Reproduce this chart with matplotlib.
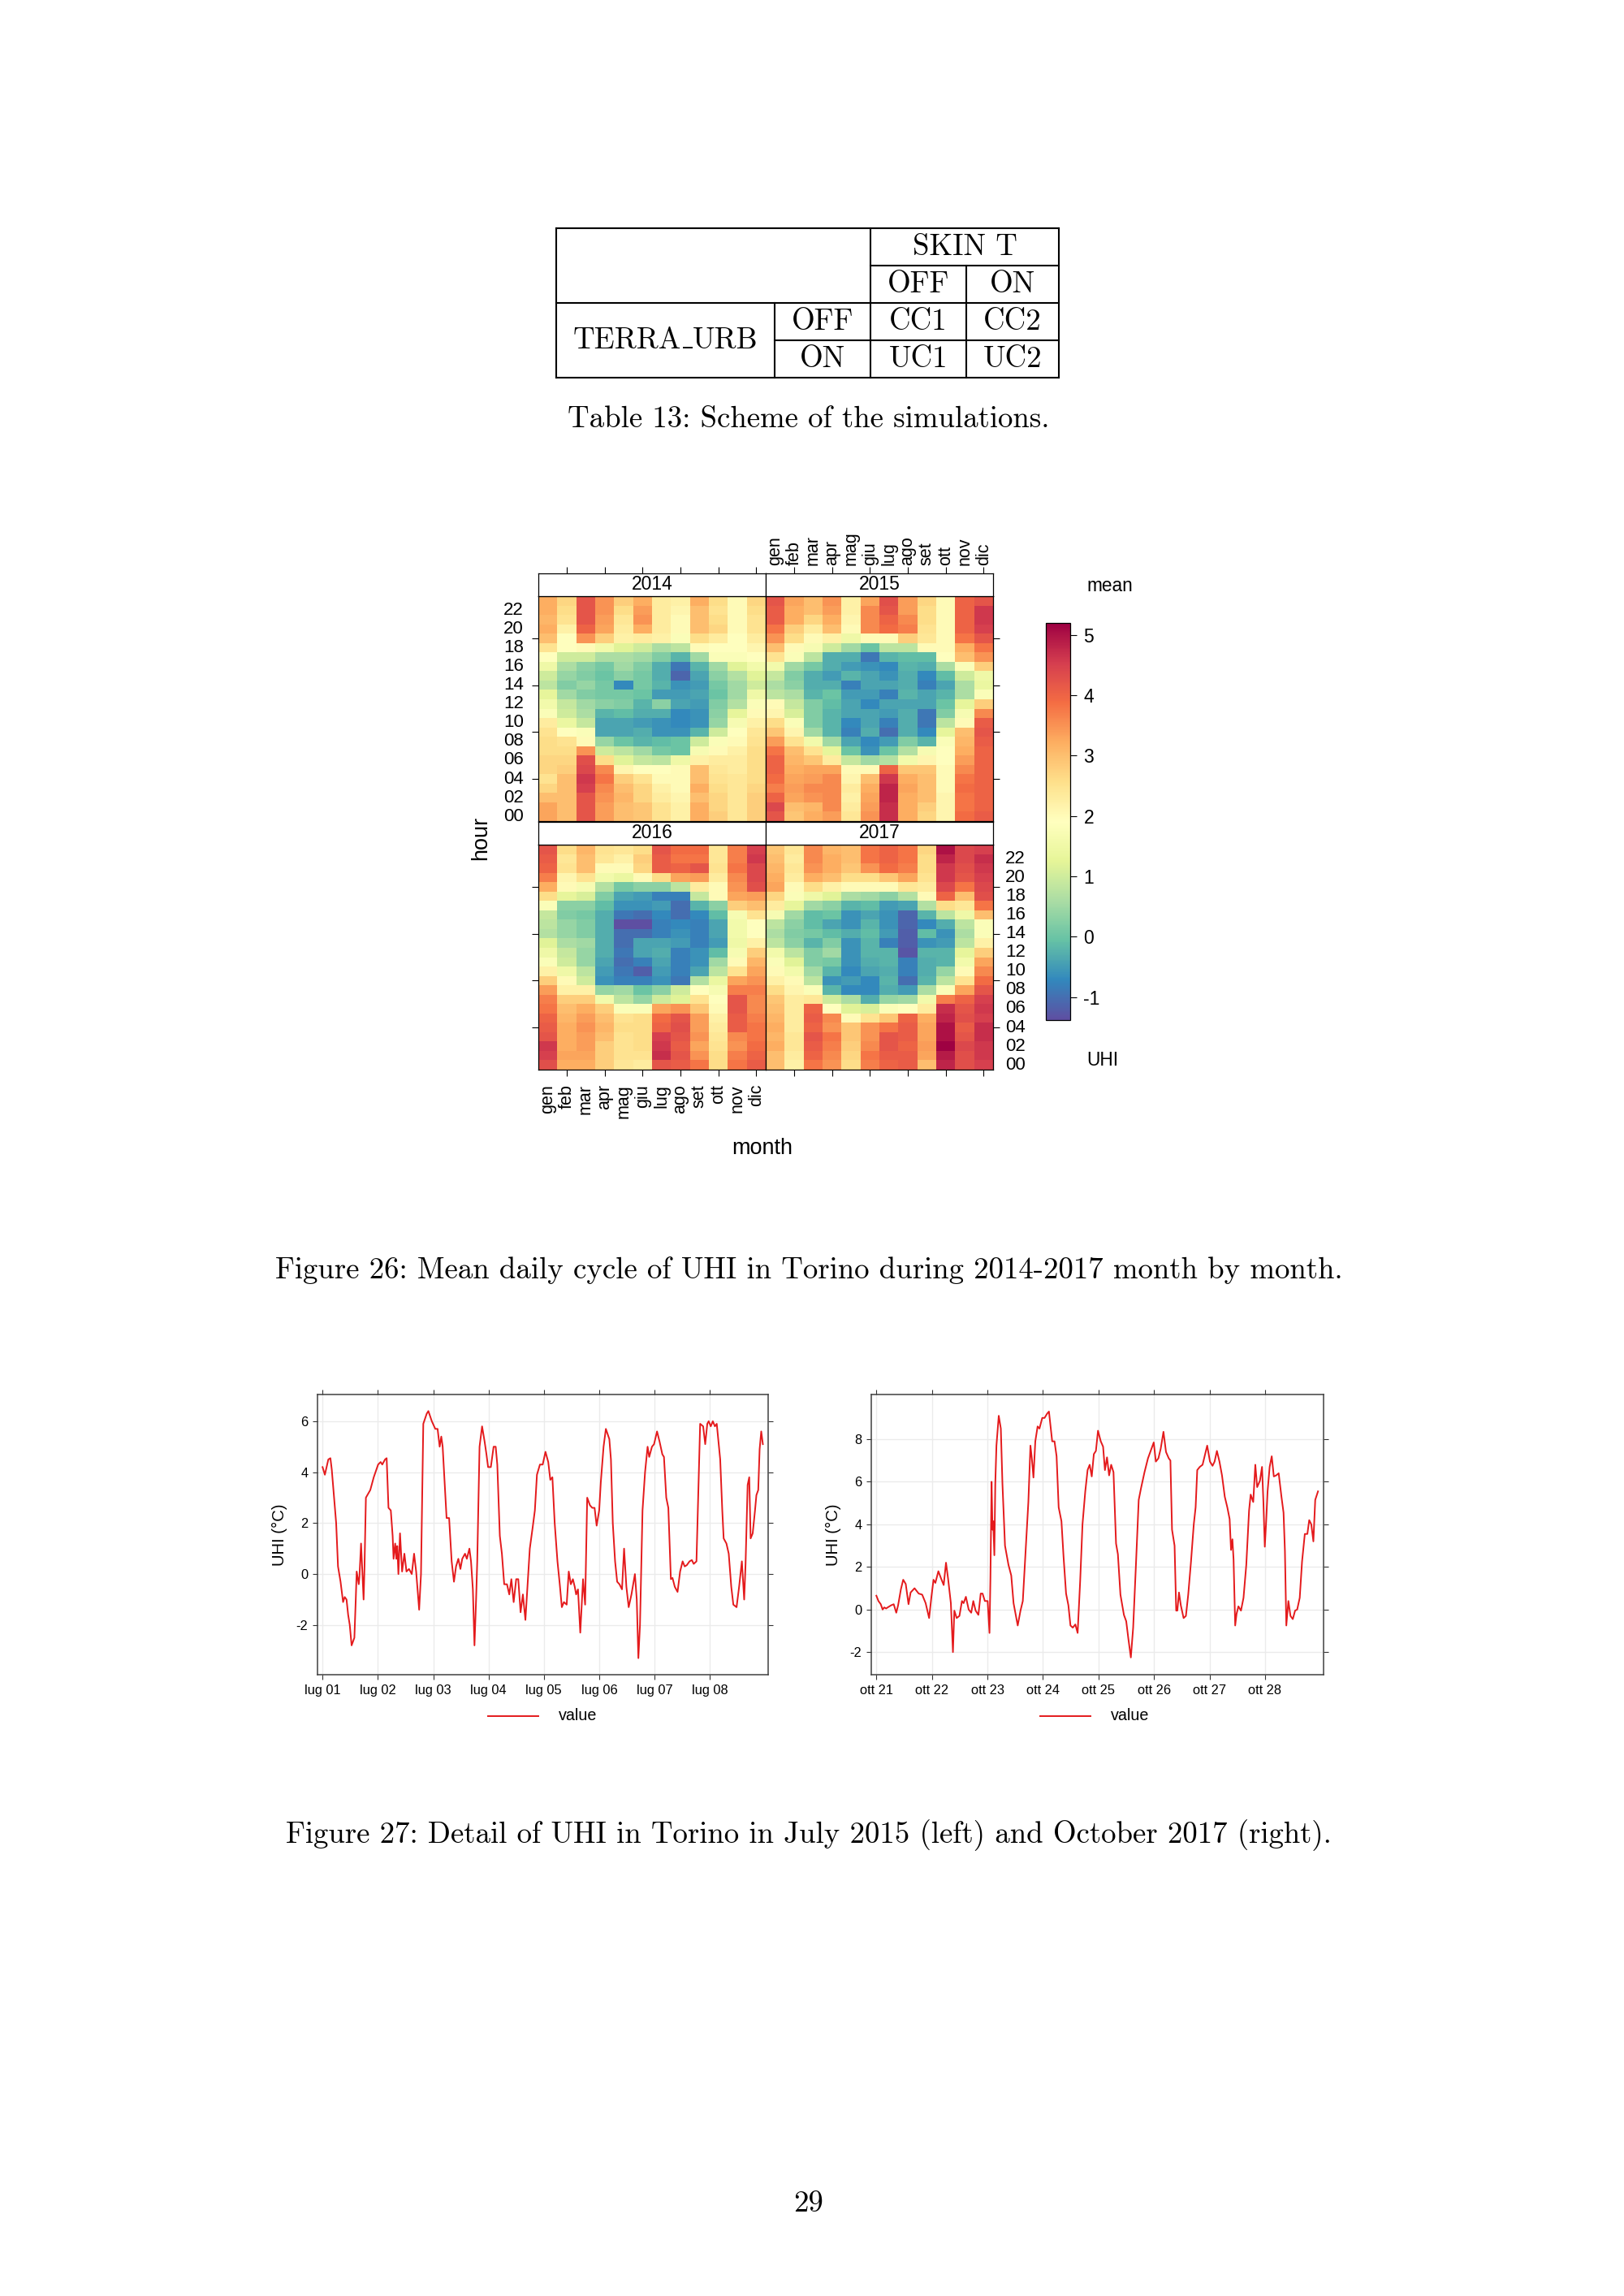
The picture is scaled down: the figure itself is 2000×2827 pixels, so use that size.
import numpy as np
import matplotlib
matplotlib.use("Agg")
import matplotlib.pyplot as plt
import matplotlib.transforms as mtransforms
from matplotlib.colors import Normalize
from matplotlib.cm import ScalarMappable

W, H = 2000, 2827
plt.rcParams['font.family'] = ['Liberation Sans', 'DejaVu Sans']
plt.rcParams['axes.unicode_minus'] = False
SERIF = ['cmr10', 'DejaVu Serif']

# ---------------- data ----------------
months = ['gen', 'feb', 'mar', 'apr', 'mag', 'giu', 'lug', 'ago', 'set', 'ott', 'nov', 'dic']
hour_labels = ['00', '02', '04', '06', '08', '10', '12', '14', '16', '18', '20', '22']
years = ['2014', '2015', '2016', '2017']
uhi_min, uhi_max = -1.38, 5.2
cbar_ticks = [-1, 0, 1, 2, 3, 4, 5]

# mean UHI, rows from hour 23 (top) down to hour 00, columns gen..dic
uhi_2014 = [
    [3.2, 2.7, 4.2, 3.5, 2.8, 3.2, 2.3, 2.2, 3.2, 2.6, 2.0, 2.7],
    [3.2, 2.6, 4.2, 3.5, 2.6, 3.4, 2.3, 2.1, 3.0, 2.5, 2.0, 2.6],
    [3.1, 2.5, 4.2, 3.4, 2.4, 3.5, 2.3, 2.0, 3.0, 2.6, 2.0, 2.5],
    [3.2, 2.2, 4.0, 3.3, 2.3, 3.2, 2.3, 2.0, 3.0, 2.7, 2.0, 2.5],
    [3.0, 1.9, 3.5, 2.8, 2.2, 2.3, 2.2, 1.8, 2.6, 2.3, 1.9, 2.3],
    [2.5, 1.9, 2.0, 1.6, 1.2, 1.0, 0.6, 0.8, 2.0, 1.9, 1.9, 2.1],
    [1.9, 1.0, 1.0, 0.6, 0.6, 0.5, 0.2, -0.2, 0.5, 1.8, 1.8, 1.9],
    [1.5, 0.6, 0.3, 0.1, 0.5, 0.2, -0.3, -0.9, -0.2, 0.5, 1.2, 1.6],
    [1.0, 0.4, 0.2, 0.0, 0.3, 0.1, -0.3, -1.1, -0.4, 0.3, 0.7, 1.2],
    [0.8, 0.2, 0.4, 0.1, -0.7, 0.1, -0.2, -0.6, -0.5, 0.1, 0.5, 1.0],
    [1.3, 0.5, 0.2, 0.1, 0.1, 0.0, -0.5, -0.5, -0.4, 0.0, 0.5, 1.5],
    [1.6, 0.9, 0.5, 0.3, 0.2, -0.2, 0.3, -0.4, -0.5, 0.2, 0.7, 1.8],
    [1.8, 1.0, 0.6, -0.2, -0.1, -0.3, -0.3, -0.7, -0.6, 0.3, 1.3, 2.0],
    [2.3, 1.4, 0.9, -0.4, -0.4, -0.5, -0.6, -0.7, -0.6, 0.4, 1.7, 2.2],
    [2.5, 1.9, 1.8, -0.4, -0.4, -0.3, -0.6, -0.6, -0.2, 1.0, 1.9, 2.4],
    [2.6, 2.5, 2.0, 0.4, 0.0, -0.2, -0.1, 0.0, 1.0, 1.8, 2.0, 2.5],
    [2.6, 2.6, 3.5, 1.0, 0.8, 0.5, 0.1, 0.0, 1.7, 2.0, 2.2, 2.6],
    [2.7, 2.7, 4.3, 2.6, 1.2, 0.9, 0.8, 1.5, 2.2, 2.3, 2.3, 2.6],
    [2.7, 2.8, 4.4, 3.6, 2.1, 1.9, 1.9, 2.0, 3.0, 2.4, 2.3, 2.6],
    [2.5, 3.0, 4.6, 3.8, 2.8, 2.5, 2.0, 2.0, 3.0, 2.5, 2.4, 2.6],
    [2.7, 3.0, 4.5, 3.6, 3.0, 2.7, 2.2, 2.0, 3.2, 2.6, 2.4, 2.7],
    [3.0, 3.0, 4.2, 3.5, 3.1, 2.7, 2.3, 2.1, 3.0, 2.7, 2.4, 2.8],
    [3.3, 3.0, 4.2, 3.4, 3.0, 2.9, 2.5, 2.2, 3.2, 2.7, 2.4, 2.8],
    [3.3, 3.0, 4.2, 3.4, 3.0, 2.9, 2.5, 2.2, 3.2, 2.8, 2.4, 2.8],
]
uhi_2015 = [
    [4.2, 3.3, 3.0, 3.5, 2.2, 3.3, 4.3, 3.4, 2.7, 2.0, 4.0, 4.2],
    [4.1, 3.2, 3.0, 3.4, 2.2, 3.6, 4.2, 3.4, 2.6, 2.0, 4.0, 4.6],
    [4.1, 3.2, 2.7, 3.2, 2.1, 3.6, 4.0, 3.6, 2.6, 2.0, 4.0, 4.6],
    [3.8, 2.8, 2.3, 3.0, 2.0, 3.6, 3.9, 3.7, 2.5, 2.0, 4.0, 4.5],
    [3.5, 2.6, 2.0, 2.2, 1.5, 2.0, 2.0, 2.8, 2.4, 2.0, 3.8, 4.2],
    [3.0, 2.0, 1.7, 1.0, 0.5, 0.0, 0.8, 0.8, 2.0, 2.0, 3.2, 3.8],
    [2.5, 1.8, 0.8, -0.3, -0.3, -0.9, -0.2, -0.1, -0.1, 1.9, 3.0, 3.5],
    [1.6, 0.5, 0.1, -0.3, -0.5, -0.6, -0.7, -0.2, -0.3, 0.6, 1.8, 2.8],
    [0.9, 0.2, -0.3, -0.5, -0.2, -0.4, -0.6, -0.3, -0.7, -0.1, 1.0, 1.5],
    [0.6, 0.3, -0.3, -0.3, -0.8, -0.4, -0.4, -0.3, -0.8, -0.4, 0.6, 1.4],
    [0.8, 0.6, -0.2, 0.0, -0.5, -0.5, -0.8, -0.2, -0.4, -0.2, 0.6, 1.8],
    [2.0, 0.9, 0.2, -0.1, -0.4, -0.7, -0.4, -0.4, -0.4, 0.0, 1.3, 2.8],
    [2.1, 1.1, 0.2, -0.2, -0.4, -0.4, -0.5, -0.3, -0.9, 0.2, 1.7, 3.6],
    [2.6, 1.8, 0.2, -0.2, -0.7, -0.4, -0.8, -0.3, -0.9, 0.8, 2.0, 4.1],
    [2.9, 2.1, 0.5, -0.2, -0.8, -0.3, -1.0, -0.3, -0.7, 1.3, 3.0, 4.2],
    [3.4, 2.5, 1.6, 0.5, -0.4, -0.7, -0.5, 0.2, -0.2, 1.8, 3.1, 4.1],
    [3.8, 3.0, 2.5, 1.3, 0.0, -0.6, 0.0, 0.7, 1.7, 1.9, 3.2, 4.0],
    [4.0, 3.1, 2.9, 2.3, 0.9, 0.5, 0.7, 1.6, 2.1, 1.9, 3.4, 4.0],
    [4.0, 3.2, 3.3, 3.3, 2.0, 2.0, 4.0, 2.9, 2.9, 2.0, 3.6, 4.0],
    [3.9, 3.3, 3.4, 3.6, 2.1, 3.0, 4.6, 3.2, 3.0, 2.0, 3.8, 4.0],
    [3.7, 3.4, 3.6, 3.6, 2.3, 3.2, 4.8, 3.3, 3.0, 2.0, 3.9, 4.0],
    [4.0, 3.3, 3.5, 3.6, 2.2, 3.3, 4.8, 3.2, 3.0, 2.1, 3.8, 4.0],
    [4.4, 3.0, 3.1, 3.6, 2.3, 3.4, 4.7, 3.2, 2.8, 2.1, 3.8, 4.0],
    [4.2, 2.9, 3.2, 3.4, 2.4, 3.5, 4.7, 3.2, 2.7, 2.1, 3.9, 4.1],
]
uhi_2016 = [
    [4.2, 2.6, 3.1, 2.5, 2.4, 2.6, 4.2, 3.9, 3.9, 2.4, 3.7, 4.5],
    [4.1, 2.4, 3.0, 2.4, 2.2, 2.8, 4.1, 3.8, 3.8, 2.4, 3.7, 4.6],
    [4.0, 2.5, 3.0, 2.0, 2.0, 2.7, 4.1, 4.0, 4.2, 2.5, 3.8, 4.4],
    [3.7, 2.1, 2.5, 1.6, 1.4, 2.0, 2.6, 3.3, 3.4, 2.3, 3.6, 4.4],
    [3.2, 2.0, 1.7, 0.7, 0.1, 0.3, 0.3, 0.8, 2.3, 2.0, 3.5, 4.3],
    [2.6, 1.3, 1.1, 0.2, -0.4, -0.5, -0.8, -0.8, 0.9, 2.0, 3.3, 3.4],
    [1.8, 0.3, 0.3, -0.1, -0.6, -0.6, -0.5, -1.0, -0.2, 0.3, 2.8, 3.0],
    [0.9, 0.2, 0.1, -0.3, -0.9, -1.0, -0.7, -1.0, -0.7, -0.1, 1.7, 2.5],
    [0.8, 0.4, 0.2, -0.3, -1.4, -1.4, -0.8, -0.7, -0.8, -0.4, 1.6, 1.9],
    [0.7, 0.4, 0.2, -0.3, -1.0, -1.0, -0.8, -0.6, -0.8, -0.4, 1.6, 1.9],
    [1.2, 0.6, 0.5, -0.3, -1.0, -0.4, -0.4, -0.5, -0.8, -0.5, 1.5, 2.2],
    [1.5, 0.9, 0.4, -0.3, -0.9, -0.4, -0.3, -0.8, -0.6, -0.1, 1.7, 2.8],
    [1.8, 1.0, 0.4, -0.4, -1.0, -0.8, -0.4, -0.8, -0.6, 0.5, 2.0, 3.1],
    [2.2, 1.5, 0.8, -0.5, -0.9, -1.2, -0.5, -0.8, -0.4, 0.8, 2.5, 3.3],
    [2.8, 2.0, 1.0, -0.6, -0.8, -0.8, -0.6, -0.9, 0.7, 1.4, 3.3, 3.5],
    [3.4, 2.2, 2.2, 0.4, 0.5, 0.0, 0.3, 1.0, 1.9, 1.7, 3.7, 3.7],
    [3.7, 2.8, 2.8, 1.6, 0.8, 0.4, 1.0, 1.2, 2.5, 1.9, 4.2, 3.6],
    [3.8, 3.0, 3.2, 2.8, 1.8, 1.8, 3.3, 3.5, 2.9, 2.0, 4.2, 3.6],
    [4.0, 3.1, 3.4, 3.0, 2.5, 2.6, 3.9, 4.2, 3.4, 2.2, 4.1, 3.7],
    [4.1, 3.2, 3.5, 3.1, 2.6, 2.6, 4.0, 4.3, 3.4, 2.3, 4.1, 3.8],
    [4.2, 3.2, 3.4, 3.0, 2.5, 2.6, 4.5, 4.2, 3.5, 2.4, 3.6, 3.8],
    [4.6, 3.2, 3.4, 2.8, 2.5, 2.6, 4.6, 4.1, 3.3, 2.5, 3.5, 3.9],
    [4.5, 3.3, 3.3, 2.8, 2.5, 2.5, 4.7, 4.2, 3.5, 2.6, 3.7, 4.0],
    [4.3, 3.2, 3.2, 2.8, 2.4, 2.3, 4.2, 4.1, 3.8, 2.6, 3.8, 4.1],
]
uhi_2017 = [
    [2.9, 2.4, 3.6, 3.1, 3.0, 3.8, 4.0, 3.8, 2.7, 5.0, 4.4, 4.5],
    [3.0, 2.3, 3.6, 3.2, 3.0, 3.8, 4.0, 3.8, 2.6, 4.8, 4.4, 4.7],
    [3.1, 2.4, 3.5, 3.2, 2.9, 3.5, 3.9, 3.7, 2.6, 4.6, 4.3, 4.6],
    [3.2, 2.3, 3.2, 3.0, 2.6, 2.6, 2.9, 3.3, 2.5, 4.6, 4.2, 4.5],
    [3.3, 2.0, 2.6, 2.2, 2.0, 2.0, 2.0, 2.4, 2.3, 4.4, 3.8, 4.4],
    [2.7, 1.8, 1.5, 1.2, 0.6, 0.5, 0.3, 0.7, 2.0, 4.0, 3.0, 4.3],
    [2.3, 1.3, 0.5, 0.3, -0.2, -0.1, -0.5, -0.4, 0.7, 2.6, 2.4, 3.8],
    [1.7, 0.5, -0.1, 0.0, -0.6, -0.4, -0.6, -1.1, -0.2, 0.8, 1.5, 3.0],
    [0.8, 0.3, -0.1, -0.4, -0.6, -0.2, -0.6, -1.1, -0.7, -0.3, 0.8, 1.8],
    [0.6, 0.2, 0.1, -0.1, -0.3, -0.1, -0.5, -1.2, -0.1, -0.6, 0.6, 1.8],
    [0.8, 0.3, -0.2, 0.2, -0.6, -0.2, -0.8, -1.2, -0.6, -0.5, 0.8, 2.2],
    [1.6, 0.8, 0.2, 0.5, -0.6, -0.2, -0.2, -1.3, -0.2, -0.2, 1.3, 2.8],
    [1.8, 1.2, 0.2, 0.1, -0.6, -0.3, -0.2, -0.8, -0.3, -0.2, 1.6, 3.3],
    [2.0, 1.6, 0.5, -0.2, -0.7, -0.4, -0.3, -0.8, -0.3, 0.4, 2.0, 3.6],
    [2.2, 2.0, 0.8, -0.6, -0.5, -0.7, -0.2, -1.0, -0.2, 0.8, 2.5, 3.9],
    [2.6, 2.1, 1.8, -0.2, -0.7, -0.7, -0.3, -0.5, 0.6, 1.8, 3.3, 4.2],
    [2.9, 2.3, 2.4, 1.0, 0.6, -0.3, 0.4, 0.5, 1.6, 3.7, 4.0, 4.5],
    [3.0, 2.3, 4.0, 1.9, 1.2, 1.1, 1.8, 1.9, 2.3, 4.7, 4.2, 4.6],
    [3.1, 2.3, 4.1, 3.6, 2.0, 2.5, 2.9, 4.0, 3.2, 4.8, 4.3, 4.5],
    [3.2, 2.3, 4.0, 3.5, 2.9, 3.5, 3.8, 4.1, 3.3, 5.0, 4.1, 4.7],
    [3.1, 2.4, 4.2, 3.8, 2.9, 3.5, 4.2, 4.1, 3.3, 5.0, 4.2, 4.7],
    [3.2, 2.4, 4.1, 3.7, 2.8, 3.6, 4.2, 4.0, 3.4, 5.2, 4.4, 4.6],
    [3.0, 2.3, 4.0, 3.6, 2.7, 3.8, 4.1, 4.1, 3.3, 4.9, 4.3, 4.6],
    [3.0, 2.2, 3.8, 3.5, 2.6, 3.7, 4.0, 4.1, 3.0, 4.8, 4.3, 4.5],
]

# July 2015 series: hours since lug 01 00:00 and UHI (°C)
july_day_labels = ['lug 01', 'lug 02', 'lug 03', 'lug 04', 'lug 05', 'lug 06', 'lug 07', 'lug 08']
july_hours = [0, 1.0, 2.5, 3.4, 4.0, 5.2, 5.9, 6.7, 7.8, 8.9, 9.6, 10.4, 11.1, 11.8, 12.6, 13.8,
              14.4, 14.8, 15.7, 16.0, 16.7, 17.3, 17.8, 18.2, 18.8, 20.7, 22.2, 24.1, 25.2, 25.9,
              27.1, 27.8, 28.6, 29.6, 30.4, 30.8, 31.5, 32.0, 32.4, 32.9, 33.6, 34.5, 35.5, 36.4,
              37.5, 38.7, 39.7, 40.6, 41.9, 42.7, 43.7, 45.2, 45.9, 47.4, 48.9, 49.9, 50.8, 51.5,
              52.1, 53.0, 53.8, 54.9, 56.0, 57.0, 57.9, 58.9, 59.8, 60.6, 61.8, 62.6, 63.7, 64.4,
              65.2, 65.9, 66.6, 67.1, 68.1, 69.2, 70.3, 71.1, 71.8, 73.0, 74.2, 75.1, 75.8, 76.9,
              77.8, 78.8, 80.0, 81.0, 81.9, 82.9, 84.0, 84.9, 85.9, 86.9, 88.0, 88.9, 89.9, 91.1,
              92.1, 93.0, 94.3, 95.5, 96.7, 97.9, 98.8, 99.7, 100.7, 101.9, 102.9, 103.8, 104.7,
              105.9, 106.8, 107.7, 108.6, 109.4, 110.0, 110.8, 111.8, 112.6, 113.0, 113.9, 114.8,
              116.0, 117.0, 118.0, 118.9, 120.0, 120.7, 121.9, 122.9, 124.4, 125.1, 125.9, 126.9,
              127.8, 128.8, 129.9, 130.8, 131.8, 132.8, 134.0, 135.5, 136.3, 137.0, 137.7, 138.8,
              139.9, 141.0, 141.7, 142.9, 143.8, 145.1, 146.2, 147.4, 148.1, 149.1, 150.0, 151.1,
              151.8, 152.8, 154.0, 155.1, 156.2, 157.1, 158.0, 159.2, 160.2, 161.0, 162.2, 163.8,
              165.1, 166.0, 166.9, 167.5, 168.4, 169.3, 170.2, 171.0, 172.5, 173.4, 174.0, 175.2,
              176.2, 177.3, 178.2, 179.6, 180.7, 181.9, 182.9, 183.5, 184.4, 185.1, 185.7, 186.6,
              187.6, 188.2, 189.0, 189.6, 190.3, 191.0]
july_uhi = [4.2, 3.9, 4.5, 4.55, 4.1, 2.8, 2.0, 0.3, -0.3, -1.1, -0.9, -1.0, -1.6, -2.0, -2.8, -2.5,
            -1.0, 0.1, -0.4, -0.1, 1.2, 0.0, -1.0, 0.3, 3.0, 3.3, 3.8, 4.3, 4.4, 4.3,
            4.5, 4.55, 2.6, 2.5, 1.5, 0.6, 1.2, 0.6, 1.1, 0.0, 1.6, 0.1, 0.8, 0.1,
            0.2, 0.0, 0.8, 0.1, -1.4, 0.0, 5.9, 6.3, 6.4, 6.0, 5.7, 5.7, 5.0, 5.4,
            5.0, 3.5, 2.2, 2.2, 0.5, -0.3, 0.3, 0.6, 0.2, 0.6, 0.8, 0.6, 1.0, 0.5,
            -0.6, -2.8, -1.0, 0.5, 5.0, 5.8, 5.2, 4.7, 4.2, 4.2, 5.0, 5.0, 4.3, 1.5,
            0.8, -0.4, -0.4, -0.8, -0.2, -1.1, -0.2, -0.2, -1.5, -0.8, -1.8, -0.5, 1.0, 1.8,
            2.5, 3.9, 4.3, 4.3, 4.8, 4.4, 3.7, 3.8, 2.0, 0.5, -0.4, -1.3, -1.1,
            -1.2, 0.1, -0.4, -0.2, -0.5, -0.8, -0.6, -2.3, -0.9, -0.2, -1.2, 3.0,
            2.7, 2.6, 2.6, 1.9, 2.5, 3.6, 5.0, 5.7, 5.3, 4.5, 2.0, 0.5,
            -0.3, -0.4, -0.6, 1.0, -0.5, -1.3, -0.8, 0.0, -1.0, -3.3, -2.0, 2.5,
            4.0, 5.0, 4.6, 5.0, 5.1, 5.6, 5.2, 4.7, 4.6, 3.0, 2.6, -0.2,
            -0.15, -0.5, -0.7, 0.1, 0.5, 0.3, 0.35, 0.5, 0.55, 0.4, 0.5, 5.9,
            5.8, 5.1, 5.9, 6.0, 5.8, 6.0, 5.8, 5.9, 4.5, 2.5, 1.4, 1.2,
            0.8, -0.5, -1.2, -1.3, -0.5, 0.5, -1.0, 0.4, 3.5, 3.8, 1.4, 1.6,
            2.5, 3.1, 3.3, 4.9, 5.6, 5.1]

# October 2017 series: hours since ott 21 00:00 and UHI (°C)
oct_day_labels = ['ott 21', 'ott 22', 'ott 23', 'ott 24', 'ott 25', 'ott 26', 'ott 27', 'ott 28']
oct_hours = [0, 0.9, 1.9, 2.7, 3.4, 4.2, 4.9, 6.4, 7.5, 8.6, 9.4, 10.6, 11.6, 12.7, 13.9, 14.8,
             16.5, 18.3, 19.8, 21.3, 22.8, 23.8, 24.7, 25.5, 26.8, 28.0, 29.1, 30.1, 31.0, 32.2,
             33.1, 33.7, 34.7, 35.9, 37.0, 37.7, 38.7, 39.9, 41.0, 41.9, 42.9, 44.1, 45.1, 45.9,
             46.9, 48.1, 48.9, 49.3, 49.8, 50.2, 50.5, 51.0, 51.4, 51.9, 52.9, 53.8, 54.5, 55.6,
             57.1, 58.3, 59.3, 61.1, 62.3, 63.3, 64.5, 65.7, 66.6, 67.2, 67.9, 68.7, 69.7, 70.5,
             71.7, 72.7, 73.8, 74.6, 76.0, 77.0, 77.9, 78.8, 80.0, 80.9, 82.0, 83.0, 83.9, 84.9,
             86.0, 87.0, 88.1, 89.1, 90.3, 91.3, 92.2, 93.1, 94.0, 94.9, 95.8, 97.0, 98.0, 98.8,
             99.7, 100.6, 101.5, 102.5, 103.6, 104.4, 105.5, 107.0, 108.0, 108.9, 110.0, 111.0,
             112.2, 113.4, 114.4, 115.9, 117.4, 118.9, 119.9, 120.8, 121.9, 122.9, 124.1, 125.2,
             126.4, 127.1, 127.8, 128.9, 129.6, 130.1, 130.8, 131.6, 132.8, 133.8, 134.8, 136.0,
             137.2, 138.0, 138.7, 139.8, 141.0, 142.0, 143.0, 144.2, 145.3, 146.2, 147.2, 148.3,
             149.4, 150.6, 151.7, 152.7, 153.3, 153.9, 154.4, 155.1, 155.7, 156.5, 157.6, 158.7,
             159.9, 161.1, 161.8, 162.9, 163.8, 164.6, 165.8, 166.7, 167.3, 167.9, 168.5, 169.1,
             170.0, 170.9, 171.8, 172.8, 173.9, 175.1, 176.0, 176.6, 177.2, 178.1, 179.0, 180.0,
             181.0, 181.9, 183.0, 184.0, 185.2, 186.3, 187.1, 188.0, 188.9, 189.7, 190.9]
oct_uhi = [0.65, 0.4, 0.25, 0.0, 0.1, 0.05, 0.1, 0.2, 0.25, -0.15, 0.2, 0.95, 1.4, 1.2, 0.25, 0.8,
           1.0, 0.75, 0.7, 0.3, -0.4, 0.6, 1.4, 1.25, 1.8, 1.45, 1.15, 2.2, 1.45, 0.3,
           -2.0, -0.05, -0.4, -0.3, 0.4, 0.3, 0.6, 0.0, -0.15, 0.4, -0.05, -0.25, 0.75, 0.75,
           0.4, 0.4, -1.1, 1.45, 6.0, 3.75, 4.15, 2.55, 5.9, 7.7, 9.1, 8.5, 5.9, 3.0,
           2.1, 1.6, 0.3, -0.75, -0.05, 0.4, 2.75, 5.05, 7.7, 7.1, 6.2, 7.9, 8.6, 8.5,
           9.0, 9.0, 9.2, 9.3, 7.9, 7.9, 7.2, 4.8, 4.15, 2.5, 0.75, 0.2, -0.75, -0.85,
           -0.7, -1.1, 1.35, 4.0, 5.55, 6.55, 6.8, 6.25, 7.3, 7.45, 8.4, 7.9, 7.65, 6.55,
           7.15, 6.3, 6.8, 6.45, 3.1, 2.6, 0.7, -0.25, -0.55, -1.35, -2.25, -0.85,
           2.1, 5.15, 5.7, 6.45, 7.1, 7.55, 7.85, 6.95, 7.1, 7.55, 8.35, 7.4,
           7.1, 7.0, 3.75, 3.0, -0.05, -0.05, 0.8, 0.2, -0.4, -0.3, 0.7, 2.25,
           4.0, 4.8, 6.55, 6.7, 6.8, 7.25, 7.7, 6.95, 6.75, 6.95, 7.45, 6.95,
           6.3, 5.3, 4.8, 4.25, 2.8, 3.3, 2.35, -0.75, -0.2, 0.15, -0.05, 0.55,
           2.1, 4.65, 5.4, 5.05, 6.8, 5.75, 6.05, 6.7, 5.05, 2.95, 4.15, 5.55,
           6.7, 7.2, 6.25, 6.3, 6.4, 5.3, 4.55, 2.75, -0.75, 0.4, -0.3, -0.45,
           -0.05, 0.0, 0.55, 2.25, 3.55, 3.55, 4.2, 4.0, 3.2, 5.15, 5.55]

# ---------------- figure ----------------
fig = plt.figure(figsize=(W / 100, H / 100), dpi=100)
fig.patch.set_facecolor('white')


def px_axes(x0, y0, x1, y1):
    return fig.add_axes([x0 / W, 1 - y1 / H, (x1 - x0) / W, (y1 - y0) / H])


# page layer in pixel coordinates (table, captions)
pg = fig.add_axes([0, 0, 1, 1])
pg.set_xlim(0, W)
pg.set_ylim(H, 0)
pg.axis('off')

CAP_FS = 26.5
LW_T = 1.5

# ---- table ----
cx = [685, 954, 1072, 1190, 1304]
ry = [281, 327, 373, 419, 465]
pg.plot([cx[0], cx[4]], [ry[0], ry[0]], color='black', lw=LW_T)
pg.plot([cx[2], cx[4]], [ry[1], ry[1]], color='black', lw=LW_T)
pg.plot([cx[0], cx[4]], [ry[2], ry[2]], color='black', lw=LW_T)
pg.plot([cx[1], cx[4]], [ry[3], ry[3]], color='black', lw=LW_T)
pg.plot([cx[0], cx[4]], [ry[4], ry[4]], color='black', lw=LW_T)
pg.plot([cx[0], cx[0]], [ry[0], ry[4]], color='black', lw=LW_T)
pg.plot([cx[1], cx[1]], [ry[2], ry[4]], color='black', lw=LW_T)
pg.plot([cx[2], cx[2]], [ry[0], ry[4]], color='black', lw=LW_T)
pg.plot([cx[3], cx[3]], [ry[1], ry[4]], color='black', lw=LW_T)
pg.plot([cx[4], cx[4]], [ry[0], ry[4]], color='black', lw=LW_T)

BOFF = 10


def cell_text(x, y, s):
    pg.text(x, y + BOFF, s, ha='center', va='baseline', fontsize=CAP_FS, family=SERIF)


cell_text((cx[2] + cx[4]) / 2, (ry[0] + ry[1]) / 2, 'SKIN T')
cell_text((cx[2] + cx[3]) / 2, (ry[1] + ry[2]) / 2, 'OFF')
cell_text((cx[3] + cx[4]) / 2, (ry[1] + ry[2]) / 2, 'ON')
cell_text((cx[1] + cx[2]) / 2, (ry[2] + ry[3]) / 2, 'OFF')
cell_text((cx[1] + cx[2]) / 2, (ry[3] + ry[4]) / 2, 'ON')
cell_text((cx[2] + cx[3]) / 2, (ry[2] + ry[3]) / 2, 'CC1')
cell_text((cx[3] + cx[4]) / 2, (ry[2] + ry[3]) / 2, 'CC2')
cell_text((cx[2] + cx[3]) / 2, (ry[3] + ry[4]) / 2, 'UC1')
cell_text((cx[3] + cx[4]) / 2, (ry[3] + ry[4]) / 2, 'UC2')

# TERRA_URB with a LaTeX-like underscore rule
renderer = fig.canvas.get_renderer()
em = CAP_FS * 100 / 72
ty = ry[3] + BOFF
tA = pg.text(0, ty, 'TERRA', ha='left', va='baseline', fontsize=CAP_FS, family=SERIF)
tB = pg.text(0, ty, 'URB', ha='left', va='baseline', fontsize=CAP_FS, family=SERIF)
wA = tA.get_window_extent(renderer).width
wB = tB.get_window_extent(renderer).width
total = wA + 0.36 * em + wB
xs = (cx[0] + cx[1]) / 2 - total / 2
tA.set_x(xs)
tB.set_x(xs + wA + 0.36 * em)
pg.plot([xs + wA + 0.06 * em, xs + wA + 0.36 * em], [ty - 1, ty - 1], color='black', lw=1.4,
        solid_capstyle='butt')

pg.text(996, 526, 'Table 13: Scheme of the simulations.', ha='center', va='baseline',
        fontsize=CAP_FS, family=SERIF)

# ---- heatmap panels ----
cmap = plt.get_cmap('Spectral_r')
norm = Normalize(vmin=uhi_min, vmax=uhi_max)
data = {'2014': uhi_2014, '2015': uhi_2015, '2016': uhi_2016, '2017': uhi_2017}
colx = [(663, 943), (943, 1223)]
rowy = [((706, 734), (734, 1011)), ((1012, 1040), (1040, 1317))]
HM_FS = 16
TL = 5.8

panels = {}
for k, yr in enumerate(years):
    r, c = divmod(k, 2)
    (sy0, sy1), (py0, py1) = rowy[r]
    x0, x1 = colx[c]
    ax = px_axes(x0, py0, x1, py1)
    arr = np.flipud(np.array(data[yr]))
    ax.imshow(arr, origin='lower', cmap=cmap, norm=norm, aspect='auto',
              extent=(-0.5, 11.5, -0.5, 23.5), interpolation='nearest')
    ax.set_xlim(-0.5, 11.5)
    ax.set_ylim(-0.5, 23.5)
    ax.set_xticks([1, 3, 5, 7, 9, 11])
    ax.set_yticks([4, 9, 14, 19])
    ax.tick_params(axis='both', direction='out', length=TL, width=0.8,
                   labelbottom=False, labelleft=False, labeltop=False, labelright=False,
                   bottom=(r == 1), top=False, left=(c == 0), right=(c == 1))
    for s in ax.spines.values():
        s.set_linewidth(0.9)
    sax = px_axes(x0, sy0, x1, sy1)
    sax.set_xlim(-0.5, 11.5)
    sax.set_ylim(0, 1)
    sax.set_yticks([])
    sax.set_xticks([1, 3, 5, 7, 9, 11])
    sax.tick_params(axis='x', direction='out', length=TL, width=0.8, bottom=False,
                    top=(r == 0), labelbottom=False, labeltop=False)
    for s in sax.spines.values():
        s.set_linewidth(0.9)
    sax.text(0.5, 0.5, yr, transform=sax.transAxes, ha='center', va='center', fontsize=16.5)
    panels[yr] = ax

# hour labels (left of 2014, right of 2017)
trL = mtransforms.blended_transform_factory(fig.transFigure, panels['2014'].transData)
trR = mtransforms.blended_transform_factory(fig.transFigure, panels['2017'].transData)
for i, lab in enumerate(hour_labels):
    panels['2014'].text(645 / W, 2 * i, lab, transform=trL, ha='right', va='center', fontsize=HM_FS)
    panels['2017'].text(1238 / W, 2 * i, lab, transform=trR, ha='left', va='center', fontsize=HM_FS)

# month labels (below 2016, above 2015)
trB = mtransforms.blended_transform_factory(panels['2016'].transData, fig.transFigure)
trT = mtransforms.blended_transform_factory(panels['2015'].transData, fig.transFigure)
for i, m in enumerate(months):
    panels['2016'].text(i, 1 - 1335 / H, m, transform=trB, rotation=90, ha='center', va='top',
                        fontsize=15.5)
    panels['2015'].text(i, 1 - 696 / H, m, transform=trT, rotation=90, ha='center', va='bottom',
                        fontsize=15.5)

fig.text(592 / W, 1 - 1032 / H, 'hour', rotation=90, ha='center', va='center', fontsize=19.5)
fig.text(939 / W, 1 - 1414 / H, 'month', ha='center', va='center', fontsize=19.5)

# colour key
cax = px_axes(1288, 767, 1318, 1256)
sm = ScalarMappable(norm=norm, cmap=cmap)
cb = fig.colorbar(sm, cax=cax)
cb.set_ticks(cbar_ticks)
cb.set_ticklabels([str(t) for t in cbar_ticks])
cax.tick_params(length=TL, width=0.8, labelsize=16.5, pad=6)
cb.outline.set_linewidth(0.9)
fig.text(1367 / W, 1 - 721 / H, 'mean', ha='center', va='center', fontsize=16.3)
fig.text(1358 / W, 1 - 1305 / H, 'UHI', ha='center', va='center', fontsize=16.3)

pg.text(996, 1574, 'Figure 26: Mean daily cycle of UHI in Torino during 2014-2017 month by month.',
        ha='center', va='baseline', fontsize=CAP_FS, family=SERIF)

# ---- time series ----
LINE_C = '#e41a1c'


def series_panel(x0, x1, hours, vals, day_labels, ylim, yticks, leg_x):
    ax = px_axes(x0, 1717, x1, 2062)
    ax.plot(hours, vals, color=LINE_C, lw=1.4)
    ax.set_xlim(-2.2, 193.3)
    ax.set_ylim(*ylim)
    ax.set_xticks(np.arange(0, 24 * len(day_labels), 24))
    ax.set_xticklabels(day_labels)
    ax.set_yticks(yticks)
    ax.set_yticklabels([str(t) for t in yticks])
    ax.grid(True, color='#ebebeb', lw=1.0)
    ax.set_axisbelow(True)
    ax.tick_params(direction='out', length=4.3, width=0.8, top=True, right=True,
                   labelsize=11.8, pad=4, colors='#333333', labelcolor='black')
    for s in ax.spines.values():
        s.set_linewidth(1.1)
        s.set_color('#404040')
    ax.set_ylabel('UHI (°C)', fontsize=14.6, labelpad=8)
    ly = 1 - 2113 / H
    fig.add_artist(plt.Line2D([leg_x / W, (leg_x + 62) / W], [ly, ly], color=LINE_C, lw=1.4,
                              transform=fig.transFigure))
    fig.text((leg_x + 87) / W, ly, 'value', ha='left', va='center', fontsize=14.2)
    return ax


series_panel(391, 946, july_hours, july_uhi, july_day_labels, (-3.95, 7.05), [-2, 0, 2, 4, 6], 601)
series_panel(1073, 1630, oct_hours, oct_uhi, oct_day_labels, (-3.06, 10.1), [-2, 0, 2, 4, 6, 8], 1281)

pg.text(996, 2269, 'Figure 27: Detail of UHI in Torino in July 2015 (left) and October 2017 (right).',
        ha='center', va='baseline', fontsize=CAP_FS, family=SERIF)
pg.text(996, 2723, '29', ha='center', va='baseline', fontsize=CAP_FS, family=SERIF)

fig.savefig('out.png', dpi=100, facecolor='white')
